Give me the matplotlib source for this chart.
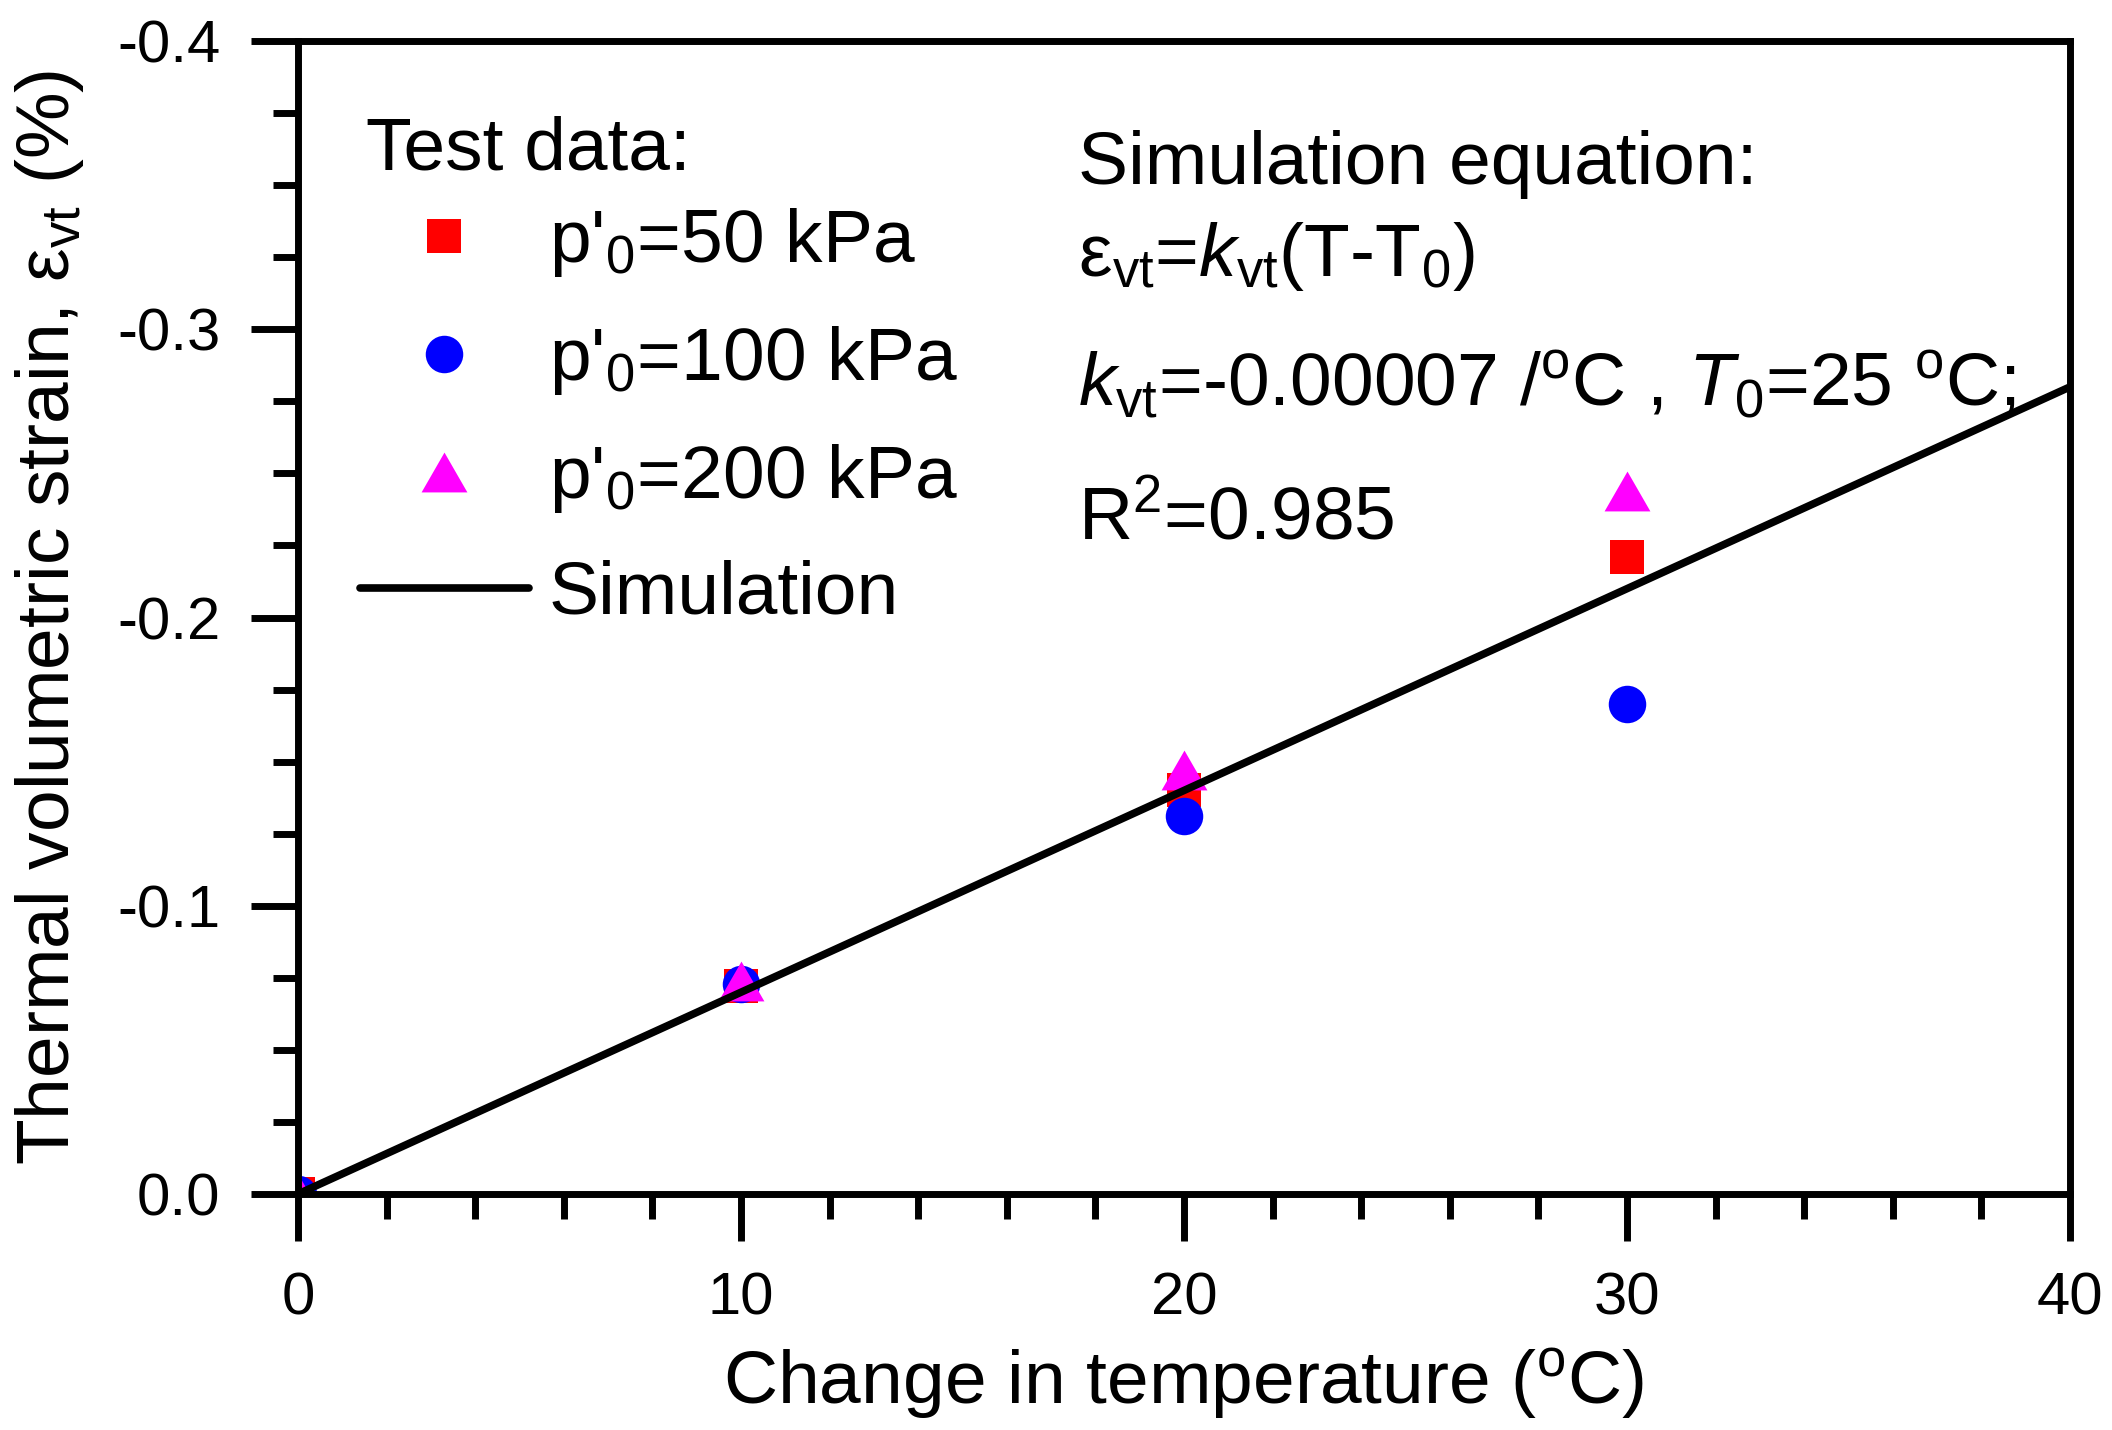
import numpy as np
import matplotlib
matplotlib.use("Agg")
import matplotlib.pyplot as plt
import matplotlib.ticker as ticker

plt.rcParams["font.family"] = ["Liberation Sans", "DejaVu Sans"]
plt.rcParams["mathtext.fontset"] = "custom"
plt.rcParams["mathtext.rm"] = "Liberation Sans"
plt.rcParams["mathtext.it"] = "Liberation Sans:italic"
plt.rcParams["axes.unicode_minus"] = False

# Test data: change in temperature vs thermal volumetric strain (%)
temp_change = [0, 10, 20, 30]
strain_50kpa = [0.0, -0.072, -0.140, -0.221]
strain_100kpa = [0.0, -0.073, -0.131, -0.170]
strain_200kpa = [0.0, -0.074, -0.147, -0.244]

# Simulation line
sim_temp = [0, 40]
sim_strain = [0.0, -0.28]

x_ticks = [0, 10, 20, 30, 40]
y_ticks = [0.0, -0.1, -0.2, -0.3, -0.4]

# slightly wide triangle, like the original
wide_tri = [(-1.15, -1.0), (1.15, -1.0), (0.0, 1.0), (-1.15, -1.0)]

W, H = 2112, 1430
fig = plt.figure(figsize=(W / 100, H / 100), dpi=100)
ax = fig.add_axes([298 / W, 1 - 1194 / H, (2070 - 298) / W, (1194 - 41) / H])

ax.plot(temp_change, strain_50kpa, linestyle="none", marker="s", ms=24,
        color="#ff0000", mew=0, label="p'$_{\\mathregular{0}}$=50 kPa")
ax.plot(temp_change, strain_100kpa, linestyle="none", marker="o", ms=27,
        color="#0000ff", mew=0, label="p'$_{\\mathregular{0}}$=100 kPa")
ax.plot(temp_change, strain_200kpa, linestyle="none", marker=wide_tri, ms=33,
        color="#ff00ff", mew=0, label="p'$_{\\mathregular{0}}$=200 kPa")
ax.plot(sim_temp, sim_strain, color="black", lw=5.5, label="Simulation",
        solid_capstyle="round")

ax.set_xlim(0, 40)
ax.set_ylim(0, -0.4)
ax.set_xticks(x_ticks)
ax.set_yticks(y_ticks)
ax.xaxis.set_minor_locator(ticker.MultipleLocator(2))
ax.yaxis.set_minor_locator(ticker.MultipleLocator(0.025))
ax.xaxis.set_major_formatter(ticker.FormatStrFormatter("%d"))
ax.yaxis.set_major_formatter(ticker.FormatStrFormatter("%.1f"))

for sp in ax.spines.values():
    sp.set_linewidth(5)
ax.tick_params(which="both", direction="out", width=5, top=False, right=False)
ax.tick_params(which="major", length=34, labelsize=43, pad=22)
ax.tick_params(which="minor", length=18)

ax.set_xlabel("Change in temperature ($^{\\mathregular{o}}$C)", fontsize=54, labelpad=14)
ax.set_ylabel("Thermal volumetric strain, ε$_{\\mathregular{vt}}$ (%)", fontsize=54, labelpad=22)

# legend heading drawn as plain text, entries below it
fig.text(366 / W, 1 - 170 / H, "Test data:", fontsize=54, va="baseline")
leg = ax.legend(loc="upper left", bbox_to_anchor=(360 / W, 1 - 206 / H),
                bbox_transform=fig.transFigure, frameon=False, fontsize=54,
                borderpad=0, borderaxespad=0, handlelength=2.25,
                handletextpad=0.27, labelspacing=0.6, numpoints=1)

# Simulation equation block
eq_x = 1078 / W
fig.text(eq_x, 1 - 184 / H, "Simulation equation:", fontsize=54, va="baseline")
fig.text(eq_x, 1 - 276 / H,
         "ε$_{\\mathregular{vt}}$=$k_{\\mathregular{vt}}$(T-T$_{\\mathregular{0}}$)",
         fontsize=54, va="baseline")
fig.text(eq_x, 1 - 406 / H,
         "$k_{\\mathregular{vt}}$=-0.00007 /$^{\\mathregular{o}}$C , "
         "$T_{\\mathregular{0}}$=25 $^{\\mathregular{o}}$C;",
         fontsize=54, va="baseline")
fig.text(eq_x, 1 - 539 / H, "R$^{\\mathregular{2}}$=0.985", fontsize=54, va="baseline")

fig.savefig("out.png", dpi=100)
